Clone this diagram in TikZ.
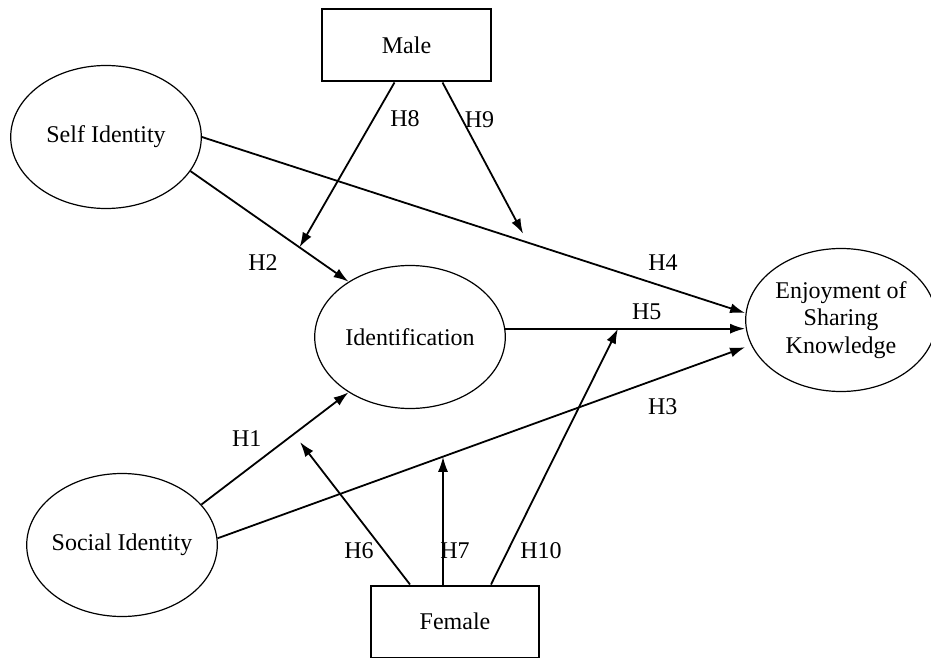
\documentclass[tikz,border=0pt]{standalone}
\usepackage{fontspec}
\setmainfont{Liberation Serif}
\usepackage{tikz}
\usetikzlibrary{shapes.geometric, arrows.meta, positioning, calc}

\begin{document}
\begin{tikzpicture}[
    x=0.5pt, y=-0.5pt,
    >={Latex[length=7.5pt,width=5pt]},
    latent/.style={ellipse, draw, line width=0.6pt, minimum width=95.3pt, minimum height=71.5pt, inner sep=0pt, inner xsep=-3pt, align=center, font=\fontsize{12}{13.6}\selectfont},
    group/.style={rectangle, draw, line width=1pt, minimum width=84.3pt, minimum height=36pt, font=\fontsize{12}{13.6}\selectfont},
    hyp/.style={inner sep=0pt, font=\fontsize{12}{13.6}\selectfont},
    link/.style={->, line width=0.9pt}
]
\useasboundingbox (0,0) rectangle (931,658);

% Constructs
\node[latent] (selfid) at (106,137) {Self Identity};
\node[latent] (ident) at (410,337) {Identification};
\node[latent] (enjoy) at (841,320) {Enjoyment of\\Sharing\\Knowledge};
\node[latent] (socid) at (122,545) {Social Identity};

% Moderators
\node[group] (male) at (406.5,45.5) {Male};
\node[group] (female) at (455,621.5) {Female};

% Direct paths
\draw[link] (selfid.east) -- ([yshift=3.5pt]enjoy.west) coordinate[pos=0.6] (h9end);
\draw[link] (selfid.-22) -- (ident.138) coordinate[pos=0.69] (h8end);
\draw[link] (ident.5) -- (ident.5 -| enjoy.west) coordinate[pos=0.47] (h10end);
\draw[link] (socid.27) -- (ident.222);
\draw[link] (socid.4) -- ([yshift=-13.6pt]enjoy.west) coordinate[pos=0.4268] (h7end);

% Moderating paths
\coordinate (h7start) at ([xshift=-6pt]female.north);
\coordinate (h6end) at (300,442);
\draw[link] ([xshift=-6pt]male.south) -- (h8end);
\draw[link, shorten >=5pt] ([xshift=18pt]male.south) -- (h9end);
\draw[link] ([xshift=-22.5pt]female.north) -- (h6end);
\draw[link] (h7start) -- (h7start |- h7end);
\draw[link] ([xshift=18pt]female.north) -- (h10end);

% Labels
\node[hyp] (h1) at (246.7,439) {H1};
\node[hyp] (h2) at (263,263) {H2};
\node[hyp] (h3) at (662.7,407) {H3};
\node[hyp] (h4) at (663,263) {H4};
\node[hyp] (h5) at (646.7,311.7) {H5};
\node[hyp] (h6) at (359,550.7) {H6};
\node[hyp] (h7) at (455,551) {H7};
\node[hyp] (h8) at (405,119) {H8};
\node[hyp] (h9) at (479.5,120) {H9};
\node[hyp] (h10) at (541,551) {H10};

\end{tikzpicture}
\end{document}
